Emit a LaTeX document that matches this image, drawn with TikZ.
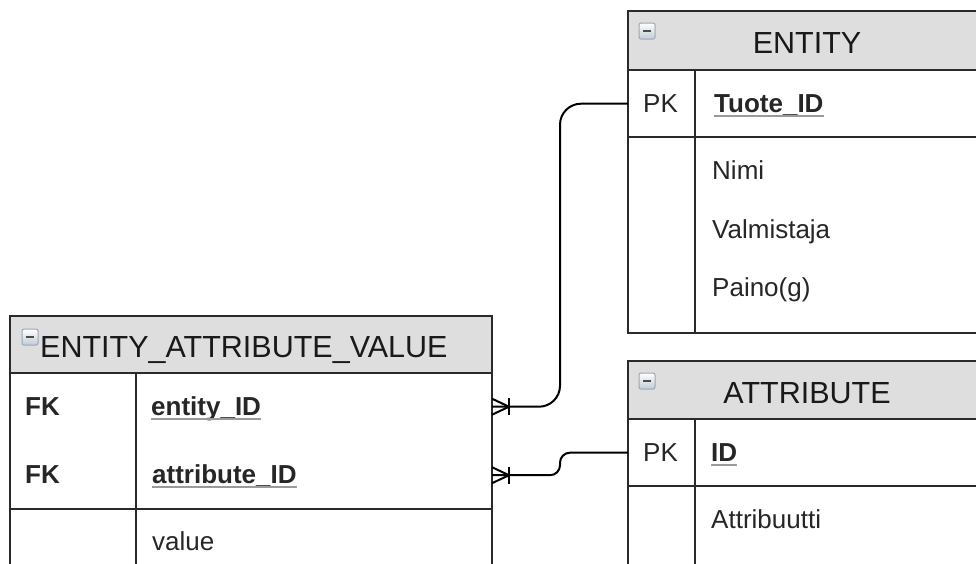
\documentclass[tikz,border=0pt]{standalone}
\usepackage{fontspec}
\setmainfont{Liberation Sans}
\usetikzlibrary{calc}
\definecolor{hdr}{HTML}{DEDEDE}
\definecolor{bord}{HTML}{2A2A2A}
\definecolor{icb}{HTML}{9AA8B8}
\definecolor{ulc}{HTML}{9A9A9A}
\tikzset{
  frame/.style={draw=bord, line width=1.8pt},
  hdrbox/.style={draw=bord, line width=1.8pt, fill=hdr},
  titletext/.style={inner sep=0pt, anchor=base, font=\fontsize{30.5}{34}\selectfont, text=black!90},
  bodytext/.style={inner sep=0pt, anchor=base west, font=\fontsize{26}{30}\selectfont, text=black!85},
  keytext/.style={bodytext, font=\fontsize{26}{30}\selectfont\bfseries},
  ulline/.style={draw=ulc, line width=2pt},
  rowcell/.style={inner sep=0pt, minimum width=0pt},
  conn/.style={draw=black, line width=2pt},
  minusicon/.style={draw=icb, line width=1pt, rounded corners=2pt, top color=white, bottom color=icb!60},
}
\newcommand{\ulnode}[1]{\draw[ulline] ([yshift=-4pt]#1.base west) -- ([yshift=-4pt]#1.base east);}
\newcommand{\minusat}[2]{%
  \draw[minusicon] (#1,#2) rectangle ++(16,16);
  \draw[black!70, line width=2.5pt] (#1+4,#2+8) -- (#1+12,#2+8);}
\begin{document}
\begin{tikzpicture}[x=1pt,y=-1pt]
\useasboundingbox (0,0) rectangle (976,563);
\clip (0,0) rectangle (976,563);
\fill[white] (0,0) rectangle (976,563);

% ---------------- ENTITY ----------------
\draw[hdrbox] (628,11) rectangle (990,70);
\draw[frame] (628,70) rectangle (990,333);
\draw[frame] (628,137) -- (990,137);
\draw[frame] (695,70) -- (695,333);
\minusat{639}{23}
\node[titletext] (entT) at (807,53) {ENTITY};
\node[rowcell, minimum width=67pt, minimum height=67pt, anchor=north west] (entPK) at (628,70) {};
\node[bodytext] (entPKl) at (643,112) {PK};
\node[keytext] (entK) at (714,112) {Tuote\_ID};
\ulnode{entK}
\node[bodytext] (entA1) at (712,179) {Nimi};
\node[bodytext] (entA2) at (712,238) {Valmistaja};
\node[bodytext] (entA3) at (712,296) {Paino(g)};

% ---------------- ATTRIBUTE ----------------
\draw[hdrbox] (628,361) rectangle (990,419);
\draw[frame] (628,419) rectangle (990,600);
\draw[frame] (628,486) -- (990,486);
\draw[frame] (695,419) -- (695,600);
\minusat{639}{373}
\node[titletext] (attT) at (807,403) {ATTRIBUTE};
\node[rowcell, minimum width=67pt, minimum height=67pt, anchor=north west] (attPK) at (628,419) {};
\node[bodytext] (attPKl) at (643,461) {PK};
\node[keytext] (attK) at (711,461) {ID};
\ulnode{attK}
\node[bodytext] (attA1) at (711,528) {Attribuutti};

% ---------------- ENTITY_ATTRIBUTE_VALUE ----------------
\draw[hdrbox] (10,316) rectangle (492,373);
\draw[frame] (10,373) rectangle (492,600);
\draw[frame] (10,509) -- (492,509);
\draw[frame] (136,373) -- (136,600);
\minusat{22}{329}
\node[titletext, anchor=base west] (eavT) at (40,357) {ENTITY\_ATTRIBUTE\_VALUE};
\node[rowcell, minimum width=356pt, minimum height=67pt, anchor=north east] (eavR1) at (492,373) {};
\node[rowcell, minimum width=356pt, minimum height=68pt, anchor=north east] (eavR2) at (492,441) {};
\node[keytext] (eavF1) at (25,415) {FK};
\node[keytext] (eavK1) at (151,415) {entity\_ID};
\ulnode{eavK1}
\node[keytext] (eavF2) at (25,483) {FK};
\node[keytext] (eavK2) at (152,483) {attribute\_ID};
\ulnode{eavK2}
\node[bodytext] (eavA1) at (152,550) {value};

% ---------------- connectors ----------------
\coordinate (bend1) at (560,0);
\draw[conn, rounded corners=21pt] (entPK.west) -| (bend1 |- eavR1.east) -- (eavR1.east);
\draw[conn] (eavR1.east) ++(17,-8.5) -- ++(0,17);
\draw[conn] ($(eavR1.east)+(0,-8)$) -- ($(eavR1.east)+(17,0)$) -- ($(eavR1.east)+(0,8)$);

\draw[conn, rounded corners=10pt] (eavR2.east) -- (bend1 |- eavR2.east) -- (bend1 |- attPK.west) -- (attPK.west);
\draw[conn] (eavR2.east) ++(17,-8.5) -- ++(0,17);
\draw[conn] ($(eavR2.east)+(0,-8)$) -- ($(eavR2.east)+(17,0)$) -- ($(eavR2.east)+(0,8)$);
\end{tikzpicture}
\end{document}
